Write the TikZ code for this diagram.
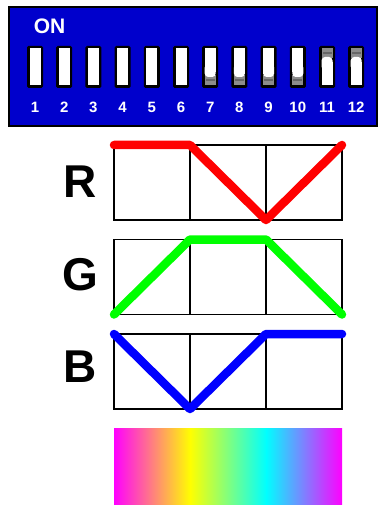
\documentclass[tikz,border=0pt]{standalone}
\usepackage{fontspec}
\setmainfont{Liberation Sans}
\definecolor{dipblue}{RGB}{0,0,204}
\definecolor{rline}{RGB}{255,0,0}
\definecolor{gline}{RGB}{0,255,0}
\definecolor{bline}{RGB}{0,0,255}
\definecolor{levgray}{RGB}{140,140,140}
\tikzset{
  dipbox/.style={fill=dipblue,draw=black,line width=2.5},
  swframe/.style={fill=black,rounded corners=1.5},
  swnum/.style={text=white,font=\fontsize{15}{15}\selectfont\bfseries,inner sep=0},
  bigletter/.style={font=\fontsize{46}{46}\selectfont\bfseries,inner sep=0},
  gridline/.style={draw=black,line width=1.3},
  curve/.style={line width=8.5,line cap=round,line join=round},
}
\begin{document}
\begin{tikzpicture}[x=1pt,y=-1pt]
\useasboundingbox (0,0) rectangle (379,505);
% DIP switch housing
\draw[dipbox] (9,7) rectangle (377,126);
\node[text=white,font=\fontsize{21}{21}\selectfont\bfseries,inner sep=0] (on) at (49.5,26) {ON};
\foreach \i in {1,...,12} {
  \pgfmathsetmacro{\xo}{27+(\i-1)*29.2}
  \pgfmathsetmacro{\xa}{\xo+2.5}
  \pgfmathsetmacro{\xb}{\xo+13.5}
  \pgfmathsetmacro{\xc}{\xo+3.5}
  \pgfmathsetmacro{\xd}{\xo+12.5}
  \fill[swframe] (\xo,46) rectangle (\xo+16,88);
  \ifnum\i<7
    \fill[white] (\xa,48.5) rectangle (\xb,85.5);
  \else\ifnum\i<11
    \fill[levgray] (\xa,75) rectangle (\xb,85.5);
    \fill[black!60] (\xc,79.5) rectangle (\xd,81);
    \fill[white] (\xa,48.5) rectangle (\xb,72);
    \fill[white,rounded corners=3.5] (\xa,64) rectangle (\xb,77);
  \else
    \fill[levgray] (\xa,48.5) rectangle (\xb,58);
    \fill[black!60] (\xc,52.5) rectangle (\xd,54);
    \fill[white] (\xa,62) rectangle (\xb,85.5);
    \fill[white,rounded corners=3.5] (\xa,57) rectangle (\xb,70);
  \fi\fi
  \node[swnum] (n\i) at (\xo+8,107) {\i};
}
% Letters
\node[bigletter] (R) at (80,182) {R};
\node[bigletter] (G) at (80,275) {G};
\node[bigletter] (B) at (80,367) {B};
% Grids
\foreach \t in {145,239.5,334} {
  \draw[gridline] (114,\t) rectangle (342,\t+75);
  \draw[gridline] (190,\t) -- (190,\t+75);
  \draw[gridline] (266,\t) -- (266,\t+75);
}
% Curves
\draw[curve,rline] (114,145) -- (190,145) -- (266,220) -- (342,145);
\draw[curve,gline] (114,314.5) -- (190,239.5) -- (266,239.5) -- (342,314.5);
\draw[curve,bline] (114,334) -- (190,409) -- (266,334) -- (342,334);
% Spectrum
\shade[left color=magenta,right color=yellow] (114,428) rectangle (190.5,505);
\shade[left color=yellow,right color=cyan] (190,428) rectangle (266.5,505);
\shade[left color=cyan,right color=magenta] (266,428) rectangle (342,505);
\end{tikzpicture}
\end{document}
